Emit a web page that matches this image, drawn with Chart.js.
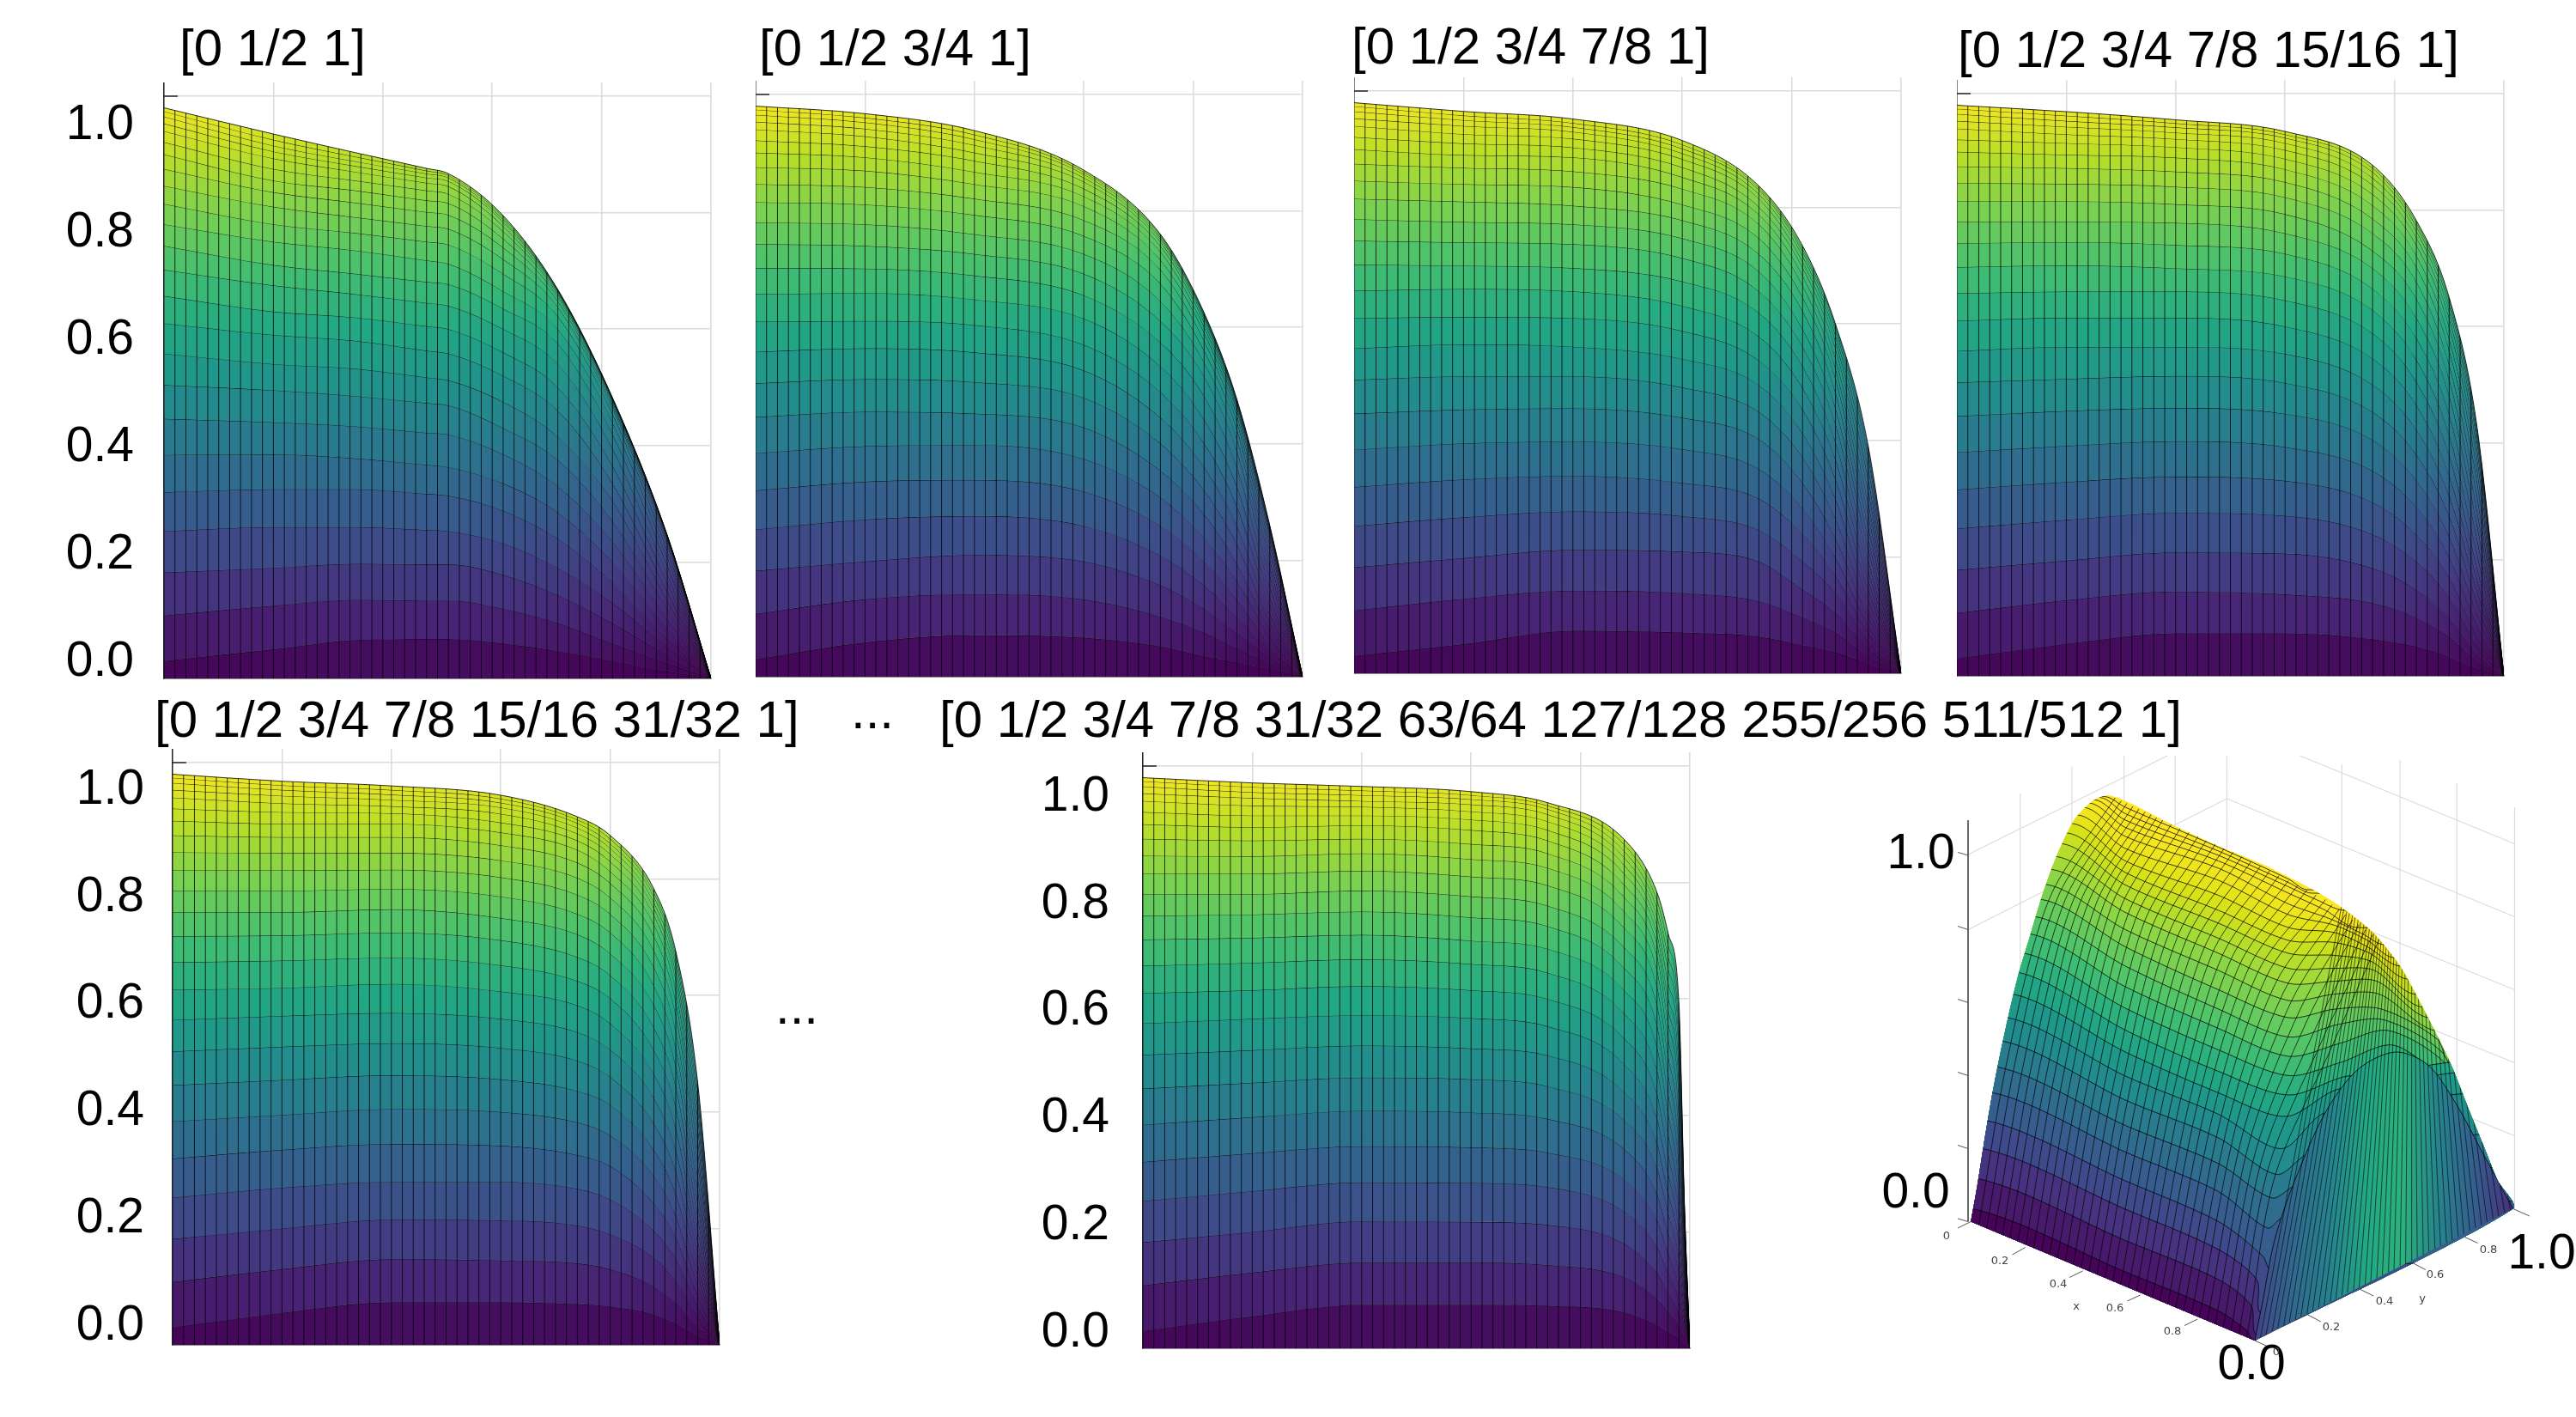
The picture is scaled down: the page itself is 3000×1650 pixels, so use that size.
<!DOCTYPE html>
<html>
<head>
<meta charset="utf-8">
<title>Surface plots</title>
<script src="https://cdn.jsdelivr.net/npm/chart.js@4"></script>
<style>
  html, body { margin: 0; background: #fff; }
  body { width: 3000px; height: 1650px; position: relative; overflow: hidden; font-family: "Liberation Sans", Arial, sans-serif; color: #000; }
  canvas { position: absolute; }
  .t { position: absolute; font-size: 60px; line-height: 58px; white-space: pre; }
  .s { position: absolute; font-size: 13px; line-height: 14px; color: #444; font-family: "DejaVu Sans", sans-serif; transform: translate(-50%, -50%); }
  .b { position: absolute; font-size: 57px; line-height: 58px; transform: translate(-50%, -50%); }
</style>
</head>
<body>
<canvas id="p1"></canvas><canvas id="p2"></canvas><canvas id="p3"></canvas><canvas id="p4"></canvas>
<canvas id="p5"></canvas><canvas id="p6"></canvas>
<canvas id="walls" width="850" height="770" style="left:2150px;top:880px"></canvas>
<canvas id="surface" width="850" height="770" style="left:2150px;top:880px"></canvas>

<div class="t" style="left:209px;top:27px">[0 1/2 1]</div>
<div class="t" style="left:884px;top:27px">[0 1/2 3/4 1]</div>
<div class="t" style="left:1574px;top:25px">[0 1/2 3/4 7/8 1]</div>
<div class="t" style="left:2280px;top:29px">[0 1/2 3/4 7/8 15/16 1]</div>
<div class="t" style="left:180px;top:809px">[0 1/2 3/4 7/8 15/16 31/32 1]</div>
<div class="t" style="left:991px;top:799px">...</div>
<div class="t" style="left:903px;top:1143px">...</div>
<div class="t" style="left:1094px;top:809px">[0 1/2 3/4 7/8 31/32 63/64 127/128 255/256 511/512 1]</div>

<div class="b" style="left:2237px;top:991px">1.0</div>
<div class="b" style="left:2231px;top:1386px">0.0</div>
<div class="b" style="left:2960px;top:1457px">1.0</div>
<div class="b" style="left:2622px;top:1586px">0.0</div>
<div class="s" style="left:2267px;top:1439px">0</div>
<div class="s" style="left:2329px;top:1468px">0.2</div>
<div class="s" style="left:2397px;top:1495px">0.4</div>
<div class="s" style="left:2418px;top:1521px">x</div>
<div class="s" style="left:2463px;top:1523px">0.6</div>
<div class="s" style="left:2530px;top:1550px">0.8</div>
<div class="s" style="left:2651px;top:1574px">0</div>
<div class="s" style="left:2715px;top:1545px">0.2</div>
<div class="s" style="left:2777px;top:1515px">0.4</div>
<div class="s" style="left:2821px;top:1512px">y</div>
<div class="s" style="left:2836px;top:1484px">0.6</div>
<div class="s" style="left:2898px;top:1455px">0.8</div>

<script>
// tick labels and mesh columns shared by the flat panels
var tickValues = [0, 0.2, 0.4, 0.6, 0.8, 1];
var columnX = [0,.02,.04,.06,.08,.1,.12,.14,.16,.18,.2,.22,.24,.26,.28,.3,.32,.34,.36,.38,.4,.42,.44,.46,.48,.5,.52,.54,.56,.58,.6,.62,.64,.66,.68,.7,.72,.74,.76,.78,.8,.82,.84,.86,.88,.9,.92,.94,.96,.98,1];

// height of every mesh row on the left edge (same in all flat panels)
var leftEdge = [.030,.108,.182,.253,.320,.384,.446,.504,.558,.610,.657,.702,.743,.780,.815,.846,.875,.900,.921,.940,.953,.965,.974,.980];

// panel 1 [0 1/2 1]
var p1X = [0,.2,.35,.48,.52,.62,.72,.82,.92,1];
var p1Z = [
  [.05,.125,.19,.26,.325,.385,.44,.495,.54,.59,.63,.675,.71,.75,.78,.81,.835,.855,.875,.893,.905,.915,.925,.935],
  [.066,.135,.197,.26,.325,.378,.433,.485,.532,.58,.62,.66,.695,.735,.765,.792,.817,.838,.855,.87,.88,.888,.896,.903],
  [.068,.134,.196,.255,.317,.367,.422,.473,.517,.563,.605,.645,.681,.718,.75,.777,.801,.821,.838,.851,.86,.867,.872,.876],
  [.068,.134,.196,.253,.314,.363,.419,.469,.512,.558,.6,.64,.677,.712,.745,.772,.796,.816,.832,.845,.854,.86,.864,.867],
  [.06,.12,.178,.232,.288,.335,.385,.43,.475,.52,.56,.6,.635,.665,.695,.72,.74,.755,.768,.777,.784,.788,.792,.795],
  [.047,.095,.143,.19,.24,.285,.33,.375,.415,.46,.5,.54,.575,.6,.622,.638,.648,.655,.66,.663,.665,.666,.667,.668],
  [.03,.06,.095,.13,.165,.2,.235,.27,.305,.335,.365,.395,.42,.44,.455,.465,.47,.474,.477,.479,.48,.481,.481,.482],
  [.012,.026,.04,.055,.07,.087,.103,.12,.135,.15,.165,.18,.195,.208,.22,.23,.236,.24,.242,.244,.245,.245,.246,.246]
];

// panel 2 [0 1/2 3/4 1]
var p2X = [0,.2,.4,.6,.74,.82,.88,.94,1];
var p2Z = [
  [.059,.133,.198,.27,.335,.396,.455,.511,.564,.611,.659,.701,.74,.777,.811,.841,.869,.892,.911,.928,.941,.952,.96,.967],
  [.071,.142,.209,.276,.338,.398,.452,.506,.557,.604,.648,.689,.726,.76,.793,.821,.846,.867,.886,.9,.913,.923,.931,.938],
  [.067,.133,.198,.259,.318,.374,.428,.479,.526,.57,.615,.655,.692,.726,.757,.784,.808,.825,.838,.85,.857,.863,.867,.87],
  [.052,.103,.157,.208,.259,.308,.354,.401,.445,.489,.533,.574,.611,.645,.675,.699,.716,.73,.74,.747,.752,.755,.758,.76],
  [.035,.076,.117,.157,.198,.238,.279,.32,.36,.401,.442,.482,.516,.54,.56,.577,.591,.601,.609,.615,.619,.621,.623,.625],
  [.024,.049,.076,.103,.133,.164,.194,.228,.259,.293,.327,.36,.388,.408,.425,.438,.449,.457,.462,.467,.47,.472,.474,.476],
  [.013,.023,.034,.045,.055,.07,.082,.094,.109,.124,.138,.156,.174,.189,.202,.217,.228,.237,.244,.249,.252,.255,.258,.26]
];

// panel 3 [0 1/2 3/4 7/8 1]
var p3X = [0,.2,.4,.6,.74,.82,.88,.94,1];
var p3Z = [
  [.05,.128,.198,.268,.333,.395,.453,.51,.565,.612,.66,.7,.74,.775,.81,.84,.868,.89,.91,.926,.94,.95,.958,.965],
  [.073,.142,.212,.278,.339,.398,.455,.51,.561,.61,.656,.696,.737,.771,.803,.835,.862,.886,.903,.918,.93,.938,.945,.952],
  [.07,.138,.209,.27,.327,.385,.439,.491,.54,.588,.631,.673,.713,.747,.778,.805,.832,.852,.869,.883,.893,.901,.908,.915],
  [.063,.124,.192,.246,.3,.351,.402,.449,.495,.537,.578,.619,.656,.69,.72,.747,.771,.788,.801,.815,.823,.83,.834,.837],
  [.048,.096,.144,.192,.239,.283,.327,.371,.412,.453,.49,.527,.561,.591,.622,.646,.666,.683,.697,.707,.717,.724,.729,.734],
  [.036,.07,.104,.138,.168,.199,.232,.266,.3,.334,.368,.398,.429,.456,.483,.507,.524,.541,.558,.571,.581,.59,.596,.6],
  [.016,.03,.043,.056,.07,.083,.097,.11,.127,.144,.161,.178,.195,.215,.232,.253,.273,.293,.314,.334,.354,.371,.381,.39]
];

// panel 4 [0 1/2 3/4 7/8 15/16 1]
var p4X = [0,.2,.4,.6,.76,.84,.9,.95,1];
var p4Z = [
  [.055,.13,.198,.268,.333,.395,.455,.51,.565,.615,.66,.705,.745,.78,.815,.845,.872,.895,.915,.93,.943,.953,.962,.969],
  [.073,.145,.212,.28,.342,.403,.46,.515,.565,.615,.66,.7,.74,.778,.81,.84,.866,.89,.908,.922,.933,.942,.949,.955],
  [.073,.14,.21,.275,.335,.393,.45,.503,.553,.6,.645,.686,.725,.76,.793,.822,.848,.87,.888,.903,.915,.924,.93,.935],
  [.063,.125,.185,.243,.298,.352,.405,.453,.5,.545,.588,.628,.665,.7,.73,.76,.785,.808,.827,.843,.855,.865,.872,.877],
  [.05,.1,.148,.196,.243,.29,.336,.38,.423,.465,.505,.543,.58,.615,.648,.677,.702,.722,.74,.753,.764,.772,.778,.782],
  [.033,.067,.1,.135,.17,.205,.24,.275,.31,.345,.38,.415,.45,.482,.51,.535,.56,.58,.6,.615,.628,.638,.645,.65],
  [.012,.027,.04,.055,.07,.09,.11,.13,.15,.17,.19,.215,.24,.265,.29,.315,.34,.36,.38,.397,.41,.42,.428,.434]
];

// panel 5 [0 1/2 3/4 7/8 15/16 31/32 1]
var p5X = [0,.2,.4,.6,.74,.8,.88,.92,.96,1];
var p5Z = [
  [.055,.13,.2,.27,.335,.395,.455,.512,.565,.613,.66,.703,.743,.78,.815,.845,.872,.895,.915,.93,.943,.953,.961,.968],
  [.073,.147,.215,.28,.345,.405,.463,.518,.57,.62,.665,.708,.748,.783,.816,.845,.872,.895,.913,.925,.936,.945,.953,.96],
  [.073,.145,.214,.28,.342,.4,.456,.51,.56,.607,.652,.695,.733,.77,.803,.832,.858,.88,.897,.912,.923,.931,.938,.944],
  [.07,.14,.205,.268,.326,.382,.436,.488,.537,.583,.625,.666,.705,.74,.773,.802,.828,.85,.866,.878,.888,.896,.902,.907],
  [.066,.13,.19,.25,.307,.36,.412,.46,.507,.552,.595,.635,.672,.708,.74,.768,.793,.813,.83,.843,.853,.861,.869,.875],
  [.052,.1,.15,.196,.243,.29,.335,.38,.424,.465,.506,.545,.583,.617,.648,.677,.702,.722,.738,.75,.76,.77,.777,.783],
  [.036,.072,.11,.148,.185,.222,.26,.298,.335,.373,.41,.445,.48,.51,.54,.567,.59,.61,.628,.64,.652,.662,.67,.676],
  [.015,.032,.05,.067,.085,.103,.122,.14,.16,.18,.2,.222,.245,.268,.29,.315,.335,.355,.375,.393,.41,.425,.44,.451]
];

// panel 6 [0 1/2 3/4 7/8 31/32 ... 511/512 1]
var p6X = [0,.2,.4,.6,.74,.88,.94,.96,.98,.99,1];
var p6Z = [
  [.055,.13,.2,.27,.335,.397,.456,.512,.566,.615,.662,.705,.745,.78,.815,.845,.872,.895,.915,.932,.945,.955,.964,.971],
  [.075,.147,.218,.285,.347,.408,.465,.52,.572,.622,.668,.71,.75,.786,.82,.85,.875,.898,.915,.93,.94,.95,.958,.965],
  [.075,.147,.217,.284,.345,.405,.462,.515,.567,.615,.66,.7,.74,.776,.81,.84,.866,.89,.908,.922,.934,.943,.95,.956],
  [.073,.143,.212,.277,.336,.394,.45,.503,.553,.6,.645,.686,.725,.76,.795,.825,.85,.872,.89,.905,.917,.926,.932,.937],
  [.062,.122,.18,.235,.29,.342,.392,.44,.488,.532,.575,.615,.653,.688,.722,.75,.775,.796,.815,.83,.843,.854,.865,.874],
  [.04,.085,.13,.175,.22,.265,.31,.352,.395,.437,.478,.518,.555,.59,.622,.65,.675,.695,.712,.727,.742,.756,.77,.783],
  [.028,.063,.097,.131,.165,.2,.235,.269,.303,.337,.371,.406,.44,.473,.505,.535,.562,.585,.605,.63,.655,.675,.695,.714],
  [.017,.04,.063,.087,.11,.135,.16,.185,.21,.235,.26,.29,.32,.35,.38,.41,.44,.465,.49,.515,.535,.555,.575,.593],
  [.008,.018,.03,.04,.05,.06,.07,.085,.095,.11,.12,.135,.145,.16,.17,.185,.195,.205,.215,.225,.232,.24,.245,.25]
];

var viridis = [[68,1,84],[72,36,117],[65,68,135],[53,95,141],[42,120,142],[33,145,140],[34,168,132],[68,191,112],[122,209,81],[189,223,38],[253,231,37]];
var bandColors = ['#450457','#481a6c','#46327e','#3e4a89','#365d8d','#2f6c8e','#297b8e','#228b8d','#1f988b','#21a585','#2db27d','#3fbc73','#52c569','#65cb5e','#7ad151','#8bd646','#a2da37','#b5de2b','#c8e020','#d8e219','#e5e419','#efe51c','#f4e61e','#f8e621','#fbe723','#fde725','#fde725'];

// 3d view, read in plot units: silhouette, level curves, mesh lines
var silhouette = [268,1085,282,1000,295,910,312,800,330,700,350,600,370,510,395,420,420,330,450,240,490,150,530,105,565,92,620,115,700,160,800,210,900,255,1000,310,1060,350,1130,410,1190,490,1250,610,1300,720,1340,830,1370,910,1400,990,1433,1055,878,1362];
var faceEdge = [878,1362,895,1270,920,1130,960,1000,1030,830,1100,730,1180,690,1250,720,1310,810,1370,930,1433,1055];
var levelCurves = [
  [272,1055,600,1202,800,1293,860,1338,878,1362],
  [284,985,600,1129,800,1220,870,1280,885,1350],
  [294,915,600,1056,800,1150,882,1220,895,1300],
  [303,850,600,990,800,1085,895,1165,915,1200],
  [316,785,600,923,800,1015,905,1100,940,1075],
  [326,725,600,861,800,950,915,1030,970,1000],
  [338,665,600,802,800,890,925,975,1000,925],
  [348,610,600,746,800,835,935,915,1035,830],
  [358,555,600,690,800,785,945,840,1065,775],
  [371,505,600,639,800,735,950,790,1085,745],
  [383,460,600,588,800,685,950,745,1060,715,1180,675,1310,795,1375,925],
  [396,415,600,538,800,635,950,700,1060,670,1165,640,1290,720,1350,860],
  [408,375,600,490,800,590,950,655,1060,625,1155,615,1280,690,1330,800],
  [421,335,600,445,800,545,950,610,1050,590,1150,590,1270,660,1300,720],
  [431,300,600,405,800,500,950,570,1050,555,1145,555,1265,640],
  [443,265,600,365,800,460,950,530,1050,525,1140,525,1250,610],
  [453,235,600,333,800,425,950,495,1050,495,1135,500,1235,585],
  [465,205,600,301,800,390,950,460,1050,465,1130,480,1220,555],
  [476,180,600,272,800,360,950,430,1050,435,1125,460,1205,520],
  [487,158,600,245,800,325,950,400,1050,412,1120,445,1190,490],
  [498,138,600,216,800,290,950,370,1050,395,1120,430,1175,470],
  [510,120,600,188,800,262,950,345,1040,380,1110,415,1155,440],
  [522,110,600,167,800,245,950,320,1030,360,1095,400],
  [532,102,600,150,800,232,950,305,1010,335,1070,360],
  [545,97,600,135,800,222,950,295,1000,320],
  [555,95,600,120,800,213,950,287,990,312]
];
var climbLines = [
  [285,1093,347,704,437,332,578,98],[302,1100,364,709,453,334,591,105],[319,1108,382,713,470,337,603,111],
  [336,1116,399,718,487,339,616,118],[352,1123,416,722,503,341,629,124],[369,1131,433,727,520,343,642,131],
  [386,1139,450,731,537,345,655,137],[403,1146,468,736,553,348,667,144],[420,1154,485,740,570,350,680,150],
  [437,1162,503,746,588,359,699,159],[454,1169,521,751,606,368,718,169],[471,1177,538,757,623,377,737,178],
  [488,1185,556,762,641,386,756,188],[505,1192,574,768,659,394,774,197],[522,1200,592,774,677,403,793,206],
  [539,1208,609,779,694,412,812,216],[556,1215,627,785,712,421,831,225],[573,1223,645,790,730,430,850,235],
  [590,1231,663,793,749,439,870,246],[607,1238,682,797,769,448,890,257],[624,1246,700,800,788,457,910,268],
  [641,1254,718,803,808,466,930,279],[658,1262,737,807,827,474,950,291],[674,1270,755,810,847,483,970,302],
  [691,1277,773,813,866,492,990,313],[708,1285,792,817,886,501,1010,324],[725,1293,810,820,905,510,1030,335],
  [742,1301,824,840,922,531,1044,347],[759,1308,838,860,939,552,1059,358],[776,1316,852,880,956,573,1073,370],
  [793,1324,866,900,974,594,1088,382],[810,1332,880,920,991,615,1102,393],[827,1339,893,940,1008,636,1116,405],
  [844,1347,907,960,1025,657,1131,417],[861,1354,921,980,1043,679,1145,428]
];
var faceBaseX = [890,902,915,927,940,952,965,977,990,1002,1015,1027,1040,1052,1065,1077,1090,1102,1115,1127,1140,1152,1165,1177,1190,1202,1215,1227,1240,1252,1265,1277,1290,1302,1315,1327,1340,1352,1365,1377,1390,1402,1415,1427];
var faceBaseY = [1355,1349,1341,1334,1327,1320,1313,1306,1300,1293,1286,1279,1272,1265,1257,1250,1245,1238,1231,1224,1217,1210,1203,1197,1189,1183,1176,1169,1162,1155,1148,1141,1134,1128,1120,1114,1106,1100,1093,1086,1079,1072,1065,1058];
var faceTopX = [1073,1079,1086,1092,1099,1105,1112,1118,1125,1131,1137,1142,1146,1151,1156,1161,1166,1171,1176,1180,1185,1190,1194,1199,1204,1209,1215,1220,1225,1230,1235,1240,1246,1251,1256,1261,1267,1272,1277,1282,1287,1292,1298,1303];
var faceColors = ['#414487','#31688e','#26828e','#22a884','#2cb17e','#26828e','#365c8d','#472f7d'];
var wallLines = [374,88,374,1000, 485,25,485,1000, 597,0,597,1000, 707,0,707,1000, 818,0,818,1000, 1065,20,1065,500, 1190,10,1190,500, 1312,65,1312,900, 1436,120,1436,1055, 262,230,690,0, 262,405,818,100, 818,100,1436,375, 975,0,1436,205, 1000,353,1436,545, 1100,567,1436,715, 1200,781,1436,885];
var axisLines = [262,150,262,1085, 240,225,262,232, 240,397,262,405, 240,567,262,575, 240,737,262,745, 240,907,262,915, 240,1078,262,1085, 268,1085,240,1100, 385,1145,357,1162, 508,1200,480,1215, 632,1256,604,1270, 755,1312,727,1327, 990,1301,1020,1318, 1105,1243,1133,1258, 1215,1180,1245,1197, 1327,1120,1357,1135, 1433,1055,1468,1072, 878,1362,910,1378];

Chart.defaults.animation = false;
Chart.defaults.responsive = false;
Chart.defaults.devicePixelRatio = 1;

// clips drawing to the surface outline, so the mesh stops at the edge
var surfaceClip = {
  id: 'surfaceClip',
  beforeDatasetsDraw: function (chart, args, opts) {
    if (opts.all != null) clipTo(chart, opts.all, false);
  },
  afterDatasetsDraw: function (chart, args, opts) {
    if (opts.all != null) chart.ctx.restore();
  },
  beforeDatasetDraw: function (chart, args) {
    var ds = chart.data.datasets[args.index];
    if (ds.clipTo != null) clipTo(chart, ds.clipTo, true);
  },
  afterDatasetDraw: function (chart, args) {
    if (chart.data.datasets[args.index].clipTo != null) chart.ctx.restore();
  }
};

function clipTo(chart, index, toBase) {
  var ctx = chart.ctx;
  var area = chart.chartArea;
  ctx.save();
  ctx.beginPath();
  chart.getDatasetMeta(index).dataset.path(ctx);
  if (toBase) {
    ctx.lineTo(area.right, area.bottom + 1);
    ctx.lineTo(area.left - 1, area.bottom + 1);
  }
  ctx.closePath();
  ctx.clip();
}

function pairs(list) {
  var out = [];
  for (var i = 0; i < list.length; i += 2) out.push({ x: list[i], y: list[i + 1] });
  return out;
}

function segments(list) {
  var out = [];
  for (var i = 0; i < list.length; i += 4) {
    out.push({ x: list[i], y: list[i + 1] }, { x: list[i + 2], y: list[i + 3] }, { x: list[i + 2], y: null });
  }
  return out;
}

function viridisAt(z) {
  var t = Math.max(0, Math.min(0.9999, z)) * (viridis.length - 1);
  var i = Math.floor(t), f = t - i;
  var a = viridis[i], b = viridis[i + 1];
  return 'rgb(' + [0, 1, 2].map(function (c) { return Math.round(a[c] + (b[c] - a[c]) * f); }).join(',') + ')';
}

function drawPanel(id, xs, mid, box) {
  var labelW = box.labels ? 130 : 0;
  var canvas = document.getElementById(id);
  canvas.width = 637 + labelW + 2;
  canvas.height = box.base - box.top + 2;
  canvas.style.left = (box.left - labelW) + 'px';
  canvas.style.top = box.top + 'px';
  var ctx = canvas.getContext('2d');

  var rows = leftEdge.map(function (edge, i) {
    return xs.map(function (x, j) { return j === 0 ? edge : (j === xs.length - 1 ? 0 : mid[j - 1][i]); });
  });
  // cells are coloured by their height, so each band shifts colour along x
  var datasets = rows.map(function (row, i) {
    var grad = ctx.createLinearGradient(labelW, 0, labelW + 637, 0);
    xs.forEach(function (x, j) {
      var below = i === 0 ? 0 : rows[i - 1][j];
      grad.addColorStop(x, viridisAt((row[j] + below) / 2));
    });
    return {
      data: xs.map(function (x, j) { return { x: x, y: row[j] }; }),
      cubicInterpolationMode: 'monotone',
      borderColor: 'rgba(0,0,0,0.8)',
      borderWidth: 1,
      backgroundColor: grad,
      fill: i === 0 ? 'origin' : '-1',
      pointRadius: 0
    };
  });
  var cols = [];
  columnX.forEach(function (x) { cols.push({ x: x, y: 0 }, { x: x, y: 1.02 }, { x: x, y: null }); });
  datasets.push({ data: cols, borderColor: 'rgba(0,0,0,0.78)', borderWidth: 1, pointRadius: 0, fill: false, clipTo: leftEdge.length - 1 });
  datasets.push({ data: [{ x: 0, y: 1 }, { x: 0.025, y: 1 }], borderColor: '#222', borderWidth: 1.5, pointRadius: 0, fill: false });
  datasets.forEach(function (d, i) { d.order = -i; });

  var span = box.base - box.y1;
  var scales = {
    x: {
      type: 'linear', min: 0, max: 1,
      ticks: { display: false, stepSize: 0.2 },
      grid: { color: '#dcdcdc', lineWidth: 1.6, drawTicks: false },
      border: { color: '#333', width: 1.5 },
      afterFit: function (s) { s.height = 0; s.paddingLeft = 0; s.paddingRight = 0; }
    },
    y: {
      min: 0, max: (box.base - box.top) / span,
      ticks: { display: false },
      grid: { color: '#dcdcdc', lineWidth: 1.6, drawTicks: false },
      border: { color: '#222', width: 1.5 },
      afterBuildTicks: function (s) { s.ticks = tickValues.map(function (v) { return { value: v }; }); },
      afterFit: function (s) { s.width = 0; s.paddingTop = 0; s.paddingBottom = 0; }
    }
  };
  if (box.labels) {
    var perUnit = box.labels.y0 - box.labels.y1;
    scales.yLabels = {
      position: 'left', weight: 1,
      min: -(box.base - box.labels.y0) / perUnit,
      max: 1 + (box.labels.y1 - box.top) / perUnit,
      grid: { display: false },
      border: { display: false },
      ticks: {
        color: '#000', padding: box.labels.pad,
        font: { family: '"Liberation Sans"', size: 57 },
        callback: function (v) { return v.toFixed(1); }
      },
      afterBuildTicks: function (s) { s.ticks = tickValues.map(function (v) { return { value: v }; }); },
      afterFit: function (s) { s.width = labelW; s.paddingTop = 0; s.paddingBottom = 0; }
    };
  }

  new Chart(canvas, {
    type: 'line',
    data: { datasets: datasets },
    options: {
      layout: { padding: { bottom: 2, right: 2 } },
      scales: scales,
      plugins: { legend: { display: false }, tooltip: { enabled: false } }
    },
    plugins: [surfaceClip]
  });
}

var view3d = {
  x: { type: 'linear', min: 0, max: 1568, display: false },
  y: { min: 0, max: 1540, reverse: true, display: false }
};

function draw3d() {
  new Chart(document.getElementById('walls'), {
    type: 'line',
    data: { datasets: [
      { data: segments(axisLines), borderColor: '#555', borderWidth: 1, pointRadius: 0, fill: false },
      { data: segments(wallLines), borderColor: '#dcdcdc', borderWidth: 1.2, pointRadius: 0, fill: false }
    ] },
    options: { scales: view3d, plugins: { legend: { display: false }, tooltip: { enabled: false } } }
  });

  var canvas = document.getElementById('surface');
  var grad = canvas.getContext('2d').createLinearGradient(878 * 850 / 1568, 0, 1433 * 850 / 1568, 0);
  faceColors.forEach(function (c, i) { grad.addColorStop(i / (faceColors.length - 1), c); });

  var datasets = [{ data: pairs(silhouette), backgroundColor: '#fde725', fill: 'shape', borderWidth: 0, pointRadius: 0, tension: 0.25 }];
  for (var k = levelCurves.length - 1; k >= 0; k--) {
    var c = levelCurves[k];
    var path = pairs(c);
    path.unshift({ x: 0, y: c[1] });
    path.push({ x: 1568, y: c[c.length - 1] }, { x: 1568, y: 1540 }, { x: 0, y: 1540 });
    datasets.push({ data: path, backgroundColor: bandColors[k], fill: 'shape', borderColor: 'rgba(0,0,0,0.75)', borderWidth: 1, pointRadius: 0, tension: 0.3 });
  }
  climbLines.forEach(function (l) {
    datasets.push({ data: pairs(l), borderColor: 'rgba(0,0,0,0.7)', borderWidth: 1, pointRadius: 0, fill: false, tension: 0.3 });
  });
  datasets.push({ data: pairs(faceEdge), backgroundColor: grad, fill: 'shape', borderColor: 'rgba(0,0,0,0.8)', borderWidth: 1, pointRadius: 0, tension: 0.3 });
  var strokes = [];
  faceBaseX.forEach(function (x, i) { strokes.push(x, faceBaseY[i], faceTopX[i], 300); });
  datasets.push({ data: segments(strokes), borderColor: 'rgba(0,0,0,0.6)', borderWidth: 1, pointRadius: 0, fill: false });
  datasets.forEach(function (d, i) { d.order = -i; });

  new Chart(canvas, {
    type: 'line',
    data: { datasets: datasets },
    options: { scales: view3d, plugins: { legend: { display: false }, tooltip: { enabled: false }, surfaceClip: { all: 0 } } },
    plugins: [surfaceClip]
  });
}

drawPanel('p1', p1X, p1Z, { left: 191, top: 96, y1: 112, base: 790, labels: { y1: 146, y0: 771, pad: 27 } });
drawPanel('p2', p2X, p2Z, { left: 880, top: 94, y1: 110, base: 788 });
drawPanel('p3', p3X, p3Z, { left: 1577, top: 90, y1: 106, base: 784 });
drawPanel('p4', p4X, p4Z, { left: 2279, top: 93, y1: 109, base: 787 });
drawPanel('p5', p5X, p5Z, { left: 201, top: 872, y1: 888, base: 1566, labels: { y1: 920, y0: 1544, pad: 25 } });
drawPanel('p6', p6X, p6Z, { left: 1331, top: 876, y1: 892, base: 1570, labels: { y1: 928, y0: 1552, pad: 31 } });
draw3d();
</script>
</body>
</html>
